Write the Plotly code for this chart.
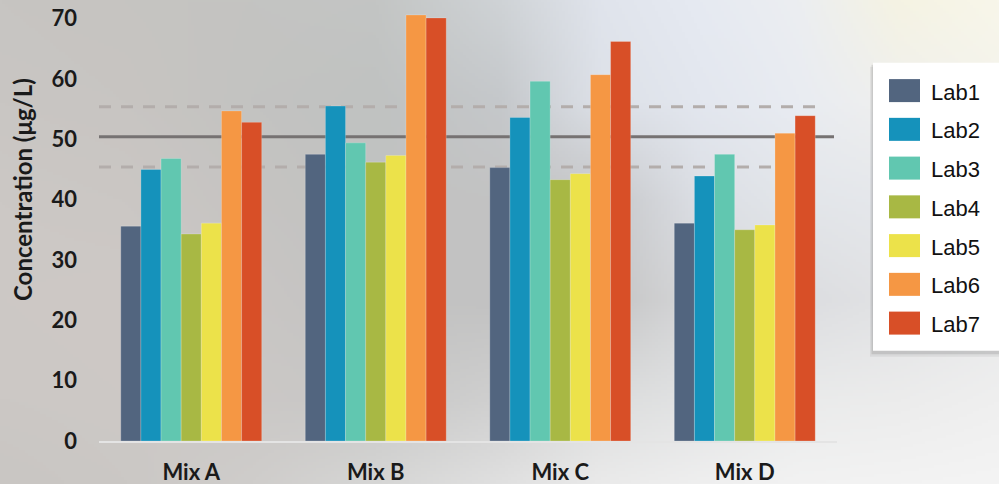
import numpy as np
import zlib, struct, base64
import plotly.graph_objects as go

# ---------------- data ----------------
mixes = ["Mix A", "Mix B", "Mix C", "Mix D"]
labs = ["Lab1", "Lab2", "Lab3", "Lab4", "Lab5", "Lab6", "Lab7"]
lab1 = [35.6, 47.5, 45.3, 36.1]
lab2 = [45.0, 55.5, 53.6, 43.9]
lab3 = [46.8, 49.4, 59.6, 47.5]
lab4 = [34.3, 46.2, 43.3, 35.0]
lab5 = [36.1, 47.3, 44.3, 35.8]
lab6 = [54.7, 70.6, 60.7, 51.0]
lab7 = [52.8, 70.1, 66.2, 53.9]
series = [lab1, lab2, lab3, lab4, lab5, lab6, lab7]
colors = ["#52657f", "#1592bb", "#61c7b0", "#a8b844", "#ece24a", "#f59744", "#d84f27"]
ref_mean = 50.4
ref_limits = [45.4, 55.4]
y_ticks = [0, 10, 20, 30, 40, 50, 60, 70]

# ---------------- geometry (pixels) ----------------
W, H = 999, 484
L, R = 99, 837          # plot area left / right
T, B = 0, 441           # plot area top / bottom
pw, ph = R - L, B - T
y_top = ph / 6.035


def xp(px):
    return (px - L) / pw


def yp(py):
    return (B - py) / ph


# ---------------- background gradient image ----------------
gx = [0, 125, 250, 375, 500, 600, 700, 800, 900, 999]
gy = [0, 100, 200, 300, 400, 484]
grid_hex = [
    ["#c7c5c2", "#c6c4c1", "#c4c4c2", "#c3c5c4", "#cfd3d6", "#e0e4ec", "#e6eaf2", "#eceef1", "#f5f3e3", "#f8f6ea"],
    ["#c9c6c3", "#c8c5c2", "#c3c3c1", "#c0c2c1", "#c5c8cb", "#dde1e8", "#e3e7ef", "#e9ecf2", "#f0f0ee", "#f4f3ec"],
    ["#ccc8c5", "#cbc7c4", "#c6c4c2", "#c1c2c1", "#c3c3c3", "#c6c7c9", "#dcdfe5", "#e3e6ea", "#e6e8ec", "#eeeeee"],
    ["#cdc9c6", "#cec9c6", "#c9c6c4", "#c3c3c2", "#c2c2c2", "#c4c4c4", "#d6d7d9", "#dcdde0", "#e2e3e5", "#e8e9ea"],
    ["#ccc8c5", "#cdc9c6", "#cbc8c6", "#c8c8c7", "#d0d0d0", "#dcdddd", "#e2e3e4", "#eaebeb", "#ececec", "#efefef"],
    ["#c9c6c3", "#cbc8c5", "#cfcdcb", "#d6d6d5", "#e0e0e0", "#eaeaea", "#efefef", "#f2f2f2", "#f3f3f3", "#f4f4f4"],
]
G = np.array([[[int(h[i:i + 2], 16) for i in (1, 3, 5)] for h in row] for row in grid_hex], dtype=float)
IW, IH = 333, 162
xq = np.linspace(0, 999, IW)
yq = np.linspace(0, 484, IH)
rows = np.zeros((len(gy), IW, 3))
for j in range(len(gy)):
    for c in range(3):
        rows[j, :, c] = np.interp(xq, gx, G[j, :, c])
img = np.zeros((IH, IW, 3))
for i in range(IW):
    for c in range(3):
        img[:, i, c] = np.interp(yq, gy, rows[:, i, c])
img = np.clip(img, 0, 255).astype(np.uint8)


def png_uri(arr):
    h, w, _ = arr.shape
    raw = b"".join(b"\x00" + arr[r].tobytes() for r in range(h))

    def chunk(t, d):
        return struct.pack(">I", len(d)) + t + d + struct.pack(">I", zlib.crc32(t + d) & 0xFFFFFFFF)

    data = (b"\x89PNG\r\n\x1a\n" + chunk(b"IHDR", struct.pack(">IIBBBBB", w, h, 8, 2, 0, 0, 0))
            + chunk(b"IDAT", zlib.compress(raw, 9)) + chunk(b"IEND", b""))
    return "data:image/png;base64," + base64.b64encode(data).decode()


# ---------------- figure ----------------
fig = go.Figure()
for name, vals, col in zip(labs, series, colors):
    fig.add_trace(go.Bar(
        x=mixes, y=vals, name=name,
        marker=dict(color=col, line=dict(color="rgba(255,255,255,0.35)", width=0.6)),
        showlegend=False,
    ))

shapes = []
# reference lines
for v in ref_limits:
    shapes.append(dict(type="line", xref="paper", yref="y", x0=0, x1=xp(823), y0=v, y1=v,
                       line=dict(color="#b3adab", width=3, dash="12px,10px"), layer="below"))
shapes.append(dict(type="line", xref="paper", yref="y", x0=0, x1=xp(834), y0=ref_mean, y1=ref_mean,
                   line=dict(color="#767272", width=3), layer="below"))

# manual legend
lx0, lx1, ly0, ly1 = 873, 1010, 62.7, 350.7
shapes.append(dict(type="rect", xref="paper", yref="paper", x0=xp(lx0 - 3), x1=xp(lx1), y0=yp(ly1 + 6), y1=yp(ly0 + 4),
                   fillcolor="rgba(0,0,0,0.06)", line=dict(width=0), layer="above"))
shapes.append(dict(type="rect", xref="paper", yref="paper", x0=xp(lx0 - 1.5), x1=xp(lx1), y0=yp(ly1 + 3.5), y1=yp(ly0 + 2),
                   fillcolor="rgba(0,0,0,0.10)", line=dict(width=0), layer="above"))
shapes.append(dict(type="rect", xref="paper", yref="paper", x0=xp(lx0), x1=xp(lx1), y0=yp(ly1), y1=yp(ly0),
                   fillcolor="white", line=dict(width=0), layer="above"))
annotations = []
for i, (name, col) in enumerate(zip(labs, colors)):
    cy = 90.6 + i * 38.75
    shapes.append(dict(type="rect", xref="paper", yref="paper", x0=xp(889), x1=xp(920),
                       y0=yp(cy + 11.5), y1=yp(cy - 11.5), fillcolor=col, line=dict(width=0), layer="above"))
    annotations.append(dict(xref="paper", yref="paper", x=xp(929), y=yp(cy + 1.5), text=name, showarrow=False,
                            xanchor="left", yanchor="middle",
                            font=dict(family="Liberation Sans, Arial", size=22, color="#111111")))

# y-axis title
annotations.append(dict(xref="paper", yref="paper", x=xp(23), y=yp(190), text="Concentration (μg/L)",
                        textangle=-90, showarrow=False, xanchor="center", yanchor="middle",
                        font=dict(family="Lato", size=24, color="#1a1a1a", weight="bold")))

tick_font = dict(family="Lato", size=22, color="#1a1a1a", weight="bold")
fig.update_layout(
    width=W, height=H,
    margin=dict(l=L, r=W - R, t=T, b=H - B, pad=0, autoexpand=False),
    paper_bgcolor="#c8c6c3",
    plot_bgcolor="rgba(0,0,0,0)",
    barmode="group", bargap=0.236, bargroupgap=0,
    shapes=shapes, annotations=annotations,
    images=[dict(source=png_uri(img), xref="paper", yref="paper", x=-L / pw, y=1 + T / ph,
                 sizex=W / pw, sizey=H / ph, xanchor="left", yanchor="top",
                 sizing="stretch", layer="below")],
    xaxis=dict(showline=True, linecolor="#e4e4e4", linewidth=2, ticks="", showgrid=False, zeroline=False,
               tickfont=tick_font, ticklabelstandoff=11, automargin=False, fixedrange=True),
    yaxis=dict(range=[0, y_top], tickvals=y_ticks, showline=False, showgrid=False, zeroline=False, ticks="",
               tickfont=tick_font, ticklabelstandoff=21, automargin=False, fixedrange=True),
    showlegend=False,
)

fig.write_html("out.html", config={"displayModeBar": False})
